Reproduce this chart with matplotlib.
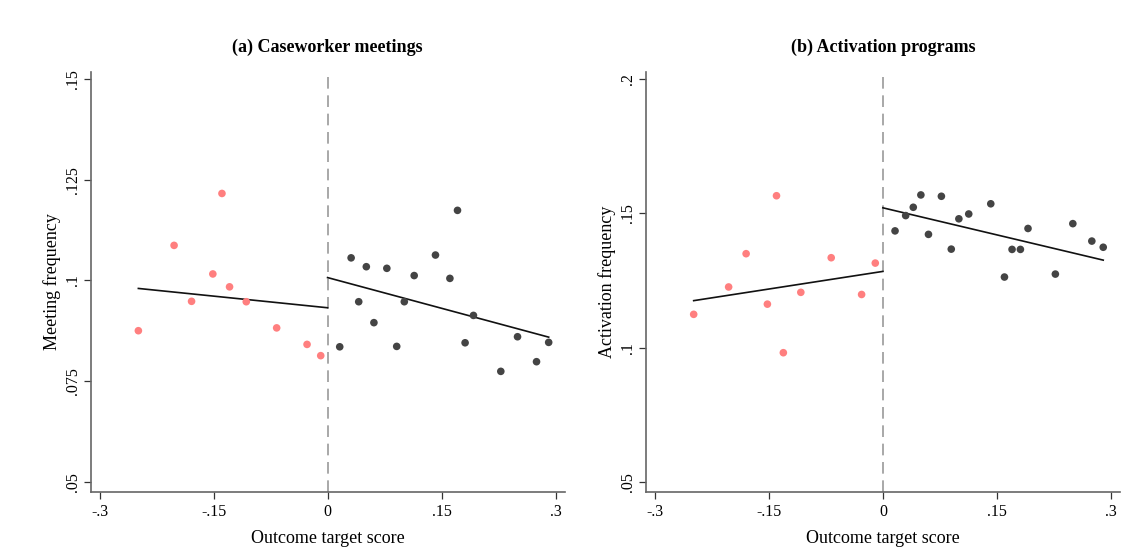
import matplotlib

matplotlib.use("Agg")

import matplotlib.pyplot as plt
import numpy as np

plt.rcParams["font.family"] = ["Liberation Serif", "DejaVu Serif"]

# (a) Caseworker meetings
meet_left_x = [-0.249, -0.202, -0.179, -0.151, -0.139, -0.129, -0.107, -0.067, -0.027, -0.009]
meet_left_y = [0.0875, 0.1087, 0.0948, 0.1016, 0.1216, 0.0984, 0.0947, 0.0882, 0.0841, 0.0813]
meet_right_x = [0.016, 0.031, 0.041, 0.051, 0.061, 0.078, 0.091, 0.101, 0.114, 0.142,
                0.161, 0.171, 0.181, 0.192, 0.228, 0.250, 0.275, 0.291]
meet_right_y = [0.0835, 0.1056, 0.0947, 0.1034, 0.0895, 0.1030, 0.0836, 0.0947, 0.1012, 0.1063,
                0.1005, 0.1174, 0.0845, 0.0913, 0.0774, 0.0860, 0.0798, 0.0846]
meet_fit_left = ([-0.249, 0.0], [0.0980, 0.0932])
meet_fit_right = ([0.0, 0.291], [0.1007, 0.0859])

# (b) Activation programs
act_left_x = [-0.249, -0.203, -0.180, -0.152, -0.140, -0.131, -0.108, -0.068, -0.028, -0.010]
act_left_y = [0.1124, 0.1226, 0.1350, 0.1162, 0.1566, 0.0981, 0.1206, 0.1335, 0.1198, 0.1315]
act_right_x = [0.016, 0.030, 0.040, 0.050, 0.060, 0.077, 0.090, 0.100, 0.113, 0.142,
               0.160, 0.170, 0.181, 0.191, 0.227, 0.250, 0.275, 0.290]
act_right_y = [0.1435, 0.1492, 0.1523, 0.1569, 0.1422, 0.1564, 0.1367, 0.1480, 0.1498, 0.1536,
               0.1263, 0.1366, 0.1366, 0.1444, 0.1274, 0.1462, 0.1397, 0.1374]
act_fit_left = ([-0.249, 0.0], [0.1175, 0.1284])
act_fit_right = ([0.0, 0.290], [0.1521, 0.1326])

x_ticks = [-0.3, -0.15, 0, 0.15, 0.3]
x_labels = ["-.3", "-.15", "0", ".15", ".3"]


def draw_panel(ax, lx, ly, rx, ry, fit_l, fit_r, title, ylabel, yticks, ylabels, ylim):
    ax.axvline(0, color="#9a9a9a", lw=1.2, ls=(0, (7, 4)), zorder=1)
    ax.scatter(lx, ly, s=30, color="#ff7f7f", edgecolors="none", zorder=3)
    ax.scatter(rx, ry, s=30, color="#444444", edgecolors="none", zorder=3)
    ax.plot(*fit_l, color="#111111", lw=1.2, zorder=2)
    ax.plot(*fit_r, color="#111111", lw=1.2, zorder=2)
    ax.set_xlim(-0.312, 0.312)
    ax.set_ylim(*ylim)
    ax.set_xticks(x_ticks)
    ax.set_xticklabels(x_labels)
    ax.set_yticks(yticks)
    ax.set_yticklabels(ylabels, rotation=90, va="center")
    ax.tick_params(labelsize=11.5, length=5, width=0.9, color="#333333")
    ax.tick_params(axis="x", pad=4)
    ax.tick_params(axis="y", pad=2)
    ax.set_title(title, fontsize=13, fontweight="bold", pad=14)
    ax.set_xlabel("Outcome target score", fontsize=13, labelpad=7)
    ax.set_ylabel(ylabel, fontsize=13, labelpad=3)
    for side in ["top", "right"]:
        ax.spines[side].set_visible(False)
    for side in ["left", "bottom"]:
        ax.spines[side].set_color("#666666")
        ax.spines[side].set_linewidth(1.2)


fig = plt.figure(figsize=(11.37, 5.5), dpi=100)
ax1 = fig.add_axes([0.0796, 0.106, 0.417, 0.764])
ax2 = fig.add_axes([0.568, 0.106, 0.417, 0.764])

draw_panel(ax1, meet_left_x, meet_left_y, meet_right_x, meet_right_y,
           meet_fit_left, meet_fit_right, "(a) Caseworker meetings", "Meeting frequency",
           [0.05, 0.075, 0.1, 0.125, 0.15], [".05", ".075", ".1", ".125", ".15"],
           (0.0475, 0.1519))
draw_panel(ax2, act_left_x, act_left_y, act_right_x, act_right_y,
           act_fit_left, act_fit_right, "(b) Activation programs", "Activation frequency",
           [0.05, 0.1, 0.15, 0.2], [".05", ".1", ".15", ".2"],
           (0.0463, 0.2029))

fig.savefig("out.png", dpi=100)
plt.close(fig)
